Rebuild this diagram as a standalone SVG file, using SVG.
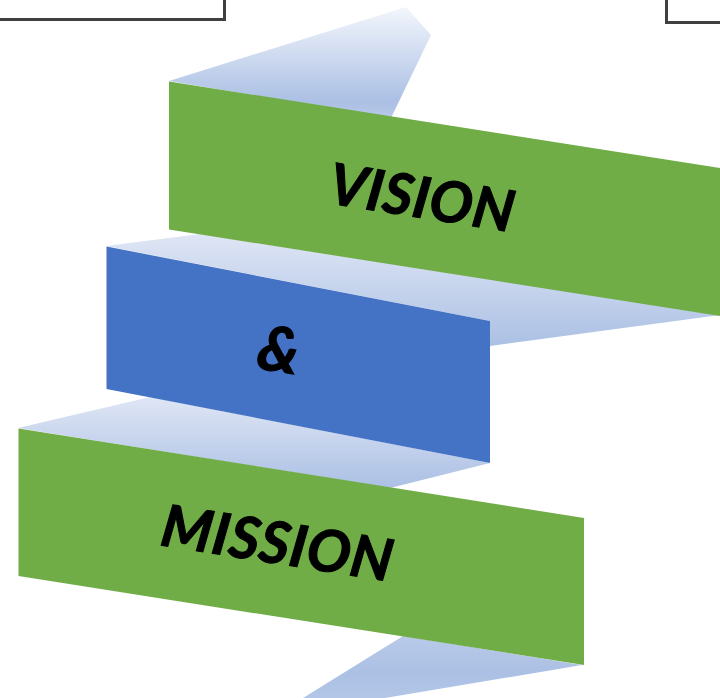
<svg xmlns="http://www.w3.org/2000/svg" width="720" height="698" viewBox="0 0 720 698">
<style>
.t{font-family:"Lato","Open Sans","Liberation Sans",sans-serif;font-weight:700;font-style:italic;fill:#000;stroke:#000;stroke-width:1.100;letter-spacing:.7px}
.g{fill:#70ad47}
.f{fill:none;stroke:#404040;stroke-width:3}
</style>
<defs>
<linearGradient id="a" x1="0" y1="0" x2="0" y2="1">
<stop offset="0" stop-color="#f3f6fc"/><stop offset=".85" stop-color="#abc0e4"/><stop offset="1" stop-color="#b8c9e8"/>
</linearGradient>
<linearGradient id="b" x1="0" y1="0" x2="0" y2="1">
<stop offset="0" stop-color="#dfe6f5"/><stop offset="1" stop-color="#abc0e4"/>
</linearGradient>
<linearGradient id="c" x1="0" y1="0" x2="0" y2="1">
<stop offset="0" stop-color="#b9cae9"/><stop offset=".6" stop-color="#abc0e4"/><stop offset="1" stop-color="#b3c6e7"/>
</linearGradient>
</defs>
<g id="frames">
<path class="f" d="M-2 19.500H224.500V-2"/>
<path class="f" d="M666.500 -2V22.500H722"/>
</g>
<g id="folds">
<polygon points="169,81 406,7 431,35 391,118" fill="url(#a)"/>
<polygon points="106,246 200,234 720,315 490,346 490,321" fill="url(#b)"/>
<polygon points="18,428 150,397 490,463 390,488" fill="url(#b)"/>
<polygon points="403,636 582,665 385,698 303,698" fill="url(#c)"/>
</g>
<g id="vision">
<polygon class="g" points="169,81.500 720,168 720,316 169,229.500"/>
<text class="t" transform="translate(327 203) rotate(9)" font-size="57">VISION</text>
</g>
<g id="and">
<polygon points="106.500,246.500 490,321 490,463 106.500,389" fill="#4472c4"/>
<text class="t" transform="translate(255 368) rotate(9)" font-size="62">&amp;</text>
</g>
<g id="mission">
<polygon class="g" points="18.500,428.500 584,518 584,665 18.500,576"/>
<text class="t" transform="translate(159 545) rotate(9)" font-size="58">MISSION</text>
</g>
</svg>
